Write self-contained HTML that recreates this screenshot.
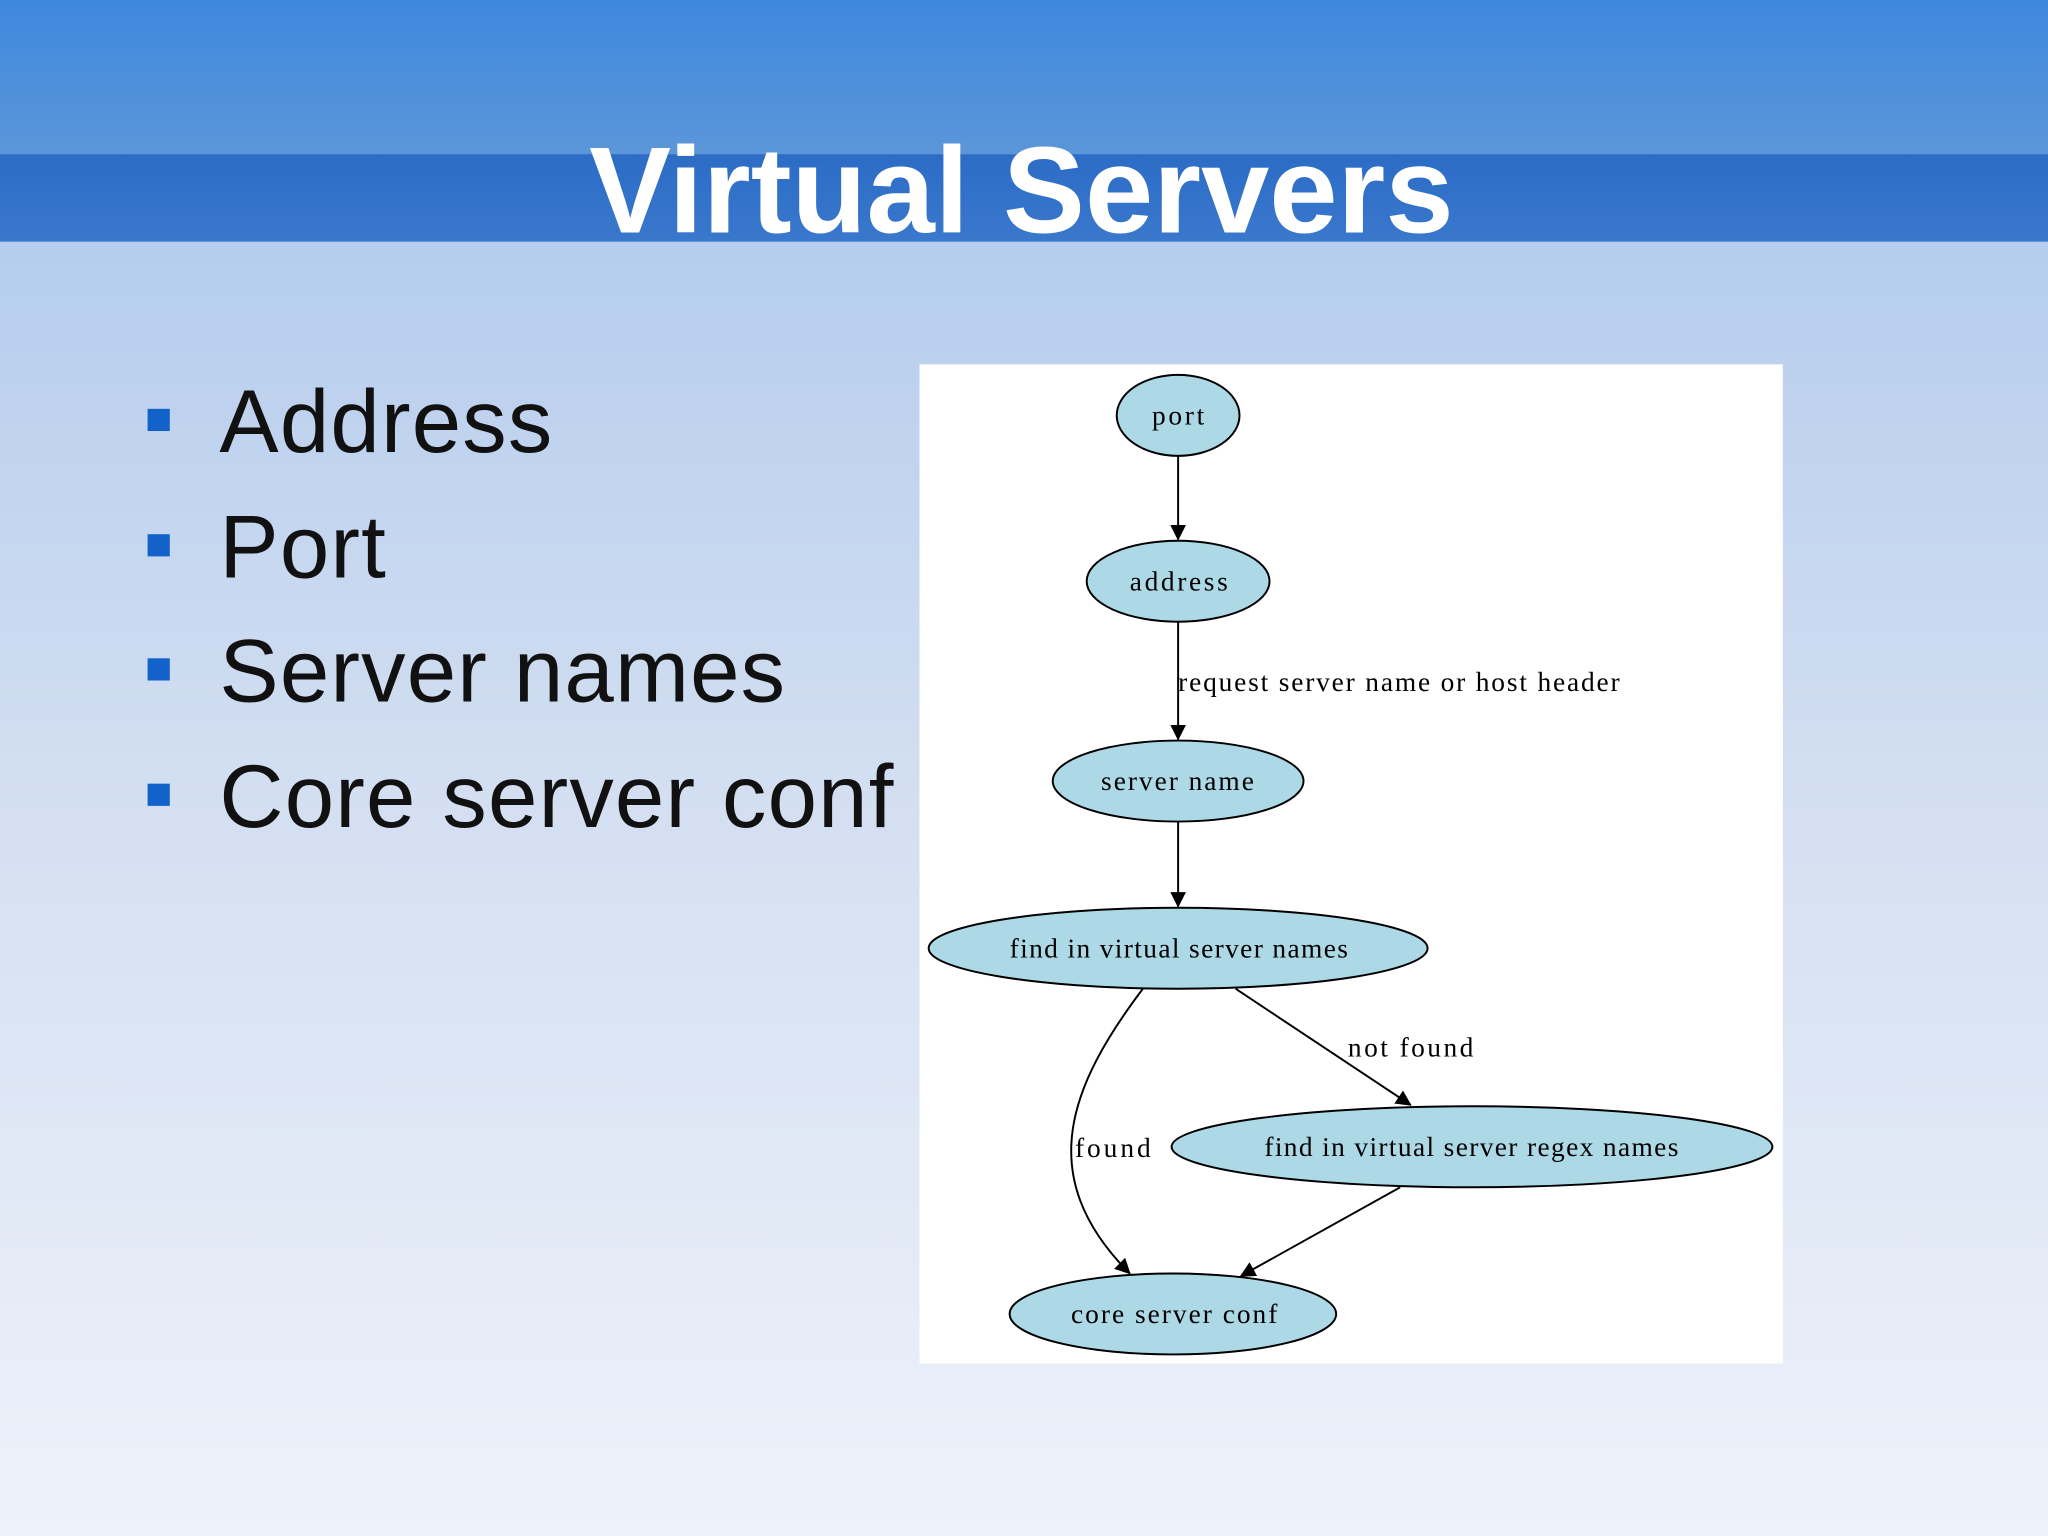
<!DOCTYPE html>
<html><head><meta charset="utf-8"><style>
html,body{margin:0;padding:0;width:2048px;height:1536px;overflow:hidden}
svg{display:block}
</style></head><body>
<svg width="2048" height="1536" viewBox="0 0 1568 1176" xmlns="http://www.w3.org/2000/svg">
<defs>
<linearGradient id="bg" x1="0" y1="0" x2="0" y2="1">
<stop offset="0" stop-color="#a8c5ec"/><stop offset="0.5" stop-color="#d2def1"/><stop offset="1" stop-color="#eef2fa"/>
</linearGradient>
<linearGradient id="top" x1="0" y1="0" x2="0" y2="1">
<stop offset="0" stop-color="#3e88de"/><stop offset="1" stop-color="#5b96d8"/>
</linearGradient>
<linearGradient id="band" x1="0" y1="0" x2="0" y2="1">
<stop offset="0" stop-color="#2c6cc6"/><stop offset="1" stop-color="#3a78cc"/>
</linearGradient>
<marker id="ar" markerWidth="12" markerHeight="12" refX="11" refY="6" orient="auto" markerUnits="userSpaceOnUse">
<path d="M0,0 L12,6 L0,12 z" fill="#000"/>
</marker>
</defs>
<rect width="1568" height="1176" fill="url(#bg)"/>
<rect width="1568" height="118" fill="url(#top)"/>
<rect y="118" width="1568" height="67" fill="url(#band)"/>
<text x="782" y="178" text-anchor="middle" font-family="Liberation Sans, sans-serif" font-weight="bold" font-size="94" fill="#fff">Virtual Servers</text>
<g fill="#1262c9">
<rect x="113" y="313" width="17" height="17"/><rect x="113" y="409" width="17" height="17"/>
<rect x="113" y="504" width="17" height="17"/><rect x="113" y="600" width="17" height="17"/>
</g>
<g font-family="Liberation Sans, sans-serif" font-size="68" fill="#111" letter-spacing="0.9">
<text x="168" y="346">Address</text><text x="168" y="442">Port</text>
<text x="168" y="537">Server names</text><text x="168" y="633">Core server conf</text>
</g>
<rect x="704" y="279" width="661" height="765" fill="#fff"/>
<g stroke="#000" stroke-width="1.5" fill="none">
<line x1="902" y1="349" x2="902" y2="413" marker-end="url(#ar)"/>
<line x1="902" y1="476" x2="902" y2="566" marker-end="url(#ar)"/>
<line x1="902" y1="629" x2="902" y2="694" marker-end="url(#ar)"/>
<line x1="946" y1="757" x2="1080" y2="846" marker-end="url(#ar)"/>
<path d="M875,757 C820,830 790,900 865,975" marker-end="url(#ar)"/>
<line x1="1072" y1="909" x2="950" y2="977" marker-end="url(#ar)"/>
</g>
<g fill="#add8e6" stroke="#000" stroke-width="1.5">
<ellipse cx="902" cy="318" rx="47" ry="31"/>
<ellipse cx="902" cy="445" rx="70" ry="31"/>
<ellipse cx="902" cy="598" rx="96" ry="31"/>
<ellipse cx="902" cy="726" rx="191" ry="31"/>
<ellipse cx="1127" cy="878" rx="230" ry="31"/>
<ellipse cx="898" cy="1006" rx="125" ry="31"/>
</g>
<g font-family="Liberation Serif, serif" font-size="21" fill="#000" lengthAdjust="spacing">
<text x="882" y="325" textLength="40">port</text>
<text x="865" y="452" textLength="75">address</text>
<text x="843" y="605" textLength="117">server name</text>
<text x="773" y="733" textLength="259">find in virtual server names</text>
<text x="968" y="885" textLength="317">find in virtual server regex names</text>
<text x="820" y="1013" textLength="158">core server conf</text>
<text x="902" y="529" textLength="338">request server name or host header</text>
<text x="1032" y="809" textLength="96">not found</text>
<text x="823" y="886" textLength="58">found</text>
</g>
</svg>
</body></html>
